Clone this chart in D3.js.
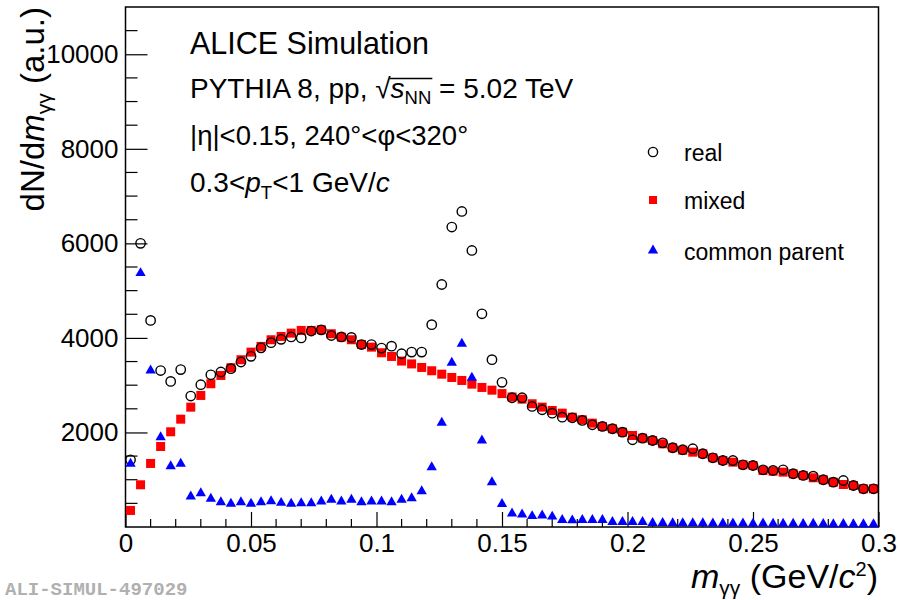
<!DOCTYPE html>
<html><head><meta charset="utf-8">
<script src="https://cdn.jsdelivr.net/npm/d3@7"></script>
<style>
body{margin:0;background:#fff}
svg{display:block}
text{font-family:"Liberation Sans",Arial,Helvetica,sans-serif;fill:#000}
</style>
</head><body>
<svg id="c" width="900" height="600"></svg>
<script>
// ---- data ----
const binWidth = 0.004;       // GeV/c^2 per bin
const nBins = 75;             // 0 .. 0.3
const realValues = [1420,6000,4370,3310,3080,3330,2770,3010,3220,3280,
  3350,3490,3610,3790,3900,3970,4020,4000,4145,4170,
  4050,4020,4010,3860,3860,3785,3825,3665,3700,3700,
  4280,5130,6345,6675,5850,4510,3540,3060,2734,2734,
  2550,2480,2408,2323,2310,2254,2162,2127,2078,2006,
  1845,1879,1830,1781,1676,1634,1655,1549,1464,1407,
  1407,1316,1301,1210,1196,1210,1126,1090,1075,999,
  948,984,878,808,808];
const mixedValues = [350,893,1344,1703,2014,2281,2535,2783,3030,3206,
  3369,3538,3699,3820,3961,4031,4101,4158,4158,4172,
  4088,4017,3961,3862,3805,3686,3608,3510,3450,3375,
  3305,3233,3163,3100,3022,2952,2895,2822,2750,2705,
  2607,2536,2465,2408,2323,2268,2197,2127,2078,2006,
  1936,1879,1830,1760,1676,1625,1583,1549,1464,1407,
  1372,1316,1301,1196,1181,1160,1126,1090,1041,999,
  948,899,878,808,808];
const commonParentValues = [1337,5371,3312,1900,1287,1337,645,715,597,525,
  491,525,491,525,546,511,491,504,504,540,
  575,540,575,525,540,540,525,575,610,755,
  1266,2204,3474,3876,3157,1830,948,485,285,265,
  230,245,220,150,140,150,150,150,105,105,
  105,105,85,85,80,80,80,80,75,75,
  75,75,70,75,70,70,70,65,70,65,
  60,65,60,60,60];
const xTicks = [0,0.05,0.1,0.15,0.2,0.25,0.3];
const xTickLabels = ["0","0.05","0.1","0.15","0.2","0.25","0.3"];
const yTicks = [2000,4000,6000,8000,10000];
const yTickLabels = ["2000","4000","6000","8000","10000"];
const legendLabels = ["real","mixed","common parent"];

// ---- layout ----
const svg = d3.select("#c");
const L = 125.5, R = 878.5, T = 7, B = 527;
const x = d3.scaleLinear().domain([0,0.3]).range([L,R]);
const y = d3.scaleLinear().domain([0,11000]).range([B,T]);
const centers = d3.range(nBins).map(i => (i + 0.5) * binWidth);

svg.append("rect").attr("width",900).attr("height",600).attr("fill","#fff");

// axes
const gx = svg.append("g").attr("transform",`translate(0,${B})`)
  .call(d3.axisBottom(x).tickValues(xTicks).tickFormat((d,i)=>xTickLabels[i])
        .tickSizeInner(-15).tickSizeOuter(0).tickPadding(7));
gx.select(".domain").remove();
gx.selectAll("text").style("font-size","26px").attr("fill","#000");
gx.selectAll("line").attr("stroke","#000").attr("stroke-width",1.2);
const gy = svg.append("g").attr("transform",`translate(${L},0)`)
  .call(d3.axisLeft(y).tickValues(yTicks).tickFormat((d,i)=>yTickLabels[i])
        .tickSizeInner(-22).tickSizeOuter(0).tickPadding(7));
gy.select(".domain").remove();
gy.selectAll("text").style("font-size","26px").attr("fill","#000");
gy.selectAll("line").attr("stroke","#000").attr("stroke-width",1.2);

// minor ticks
const xMinor = d3.range(0,0.3001,0.01).filter(v => Math.abs(v/0.05 - Math.round(v/0.05)) > 1e-6);
svg.append("g").selectAll("line").data(xMinor).join("line")
  .attr("x1",d=>x(d)).attr("x2",d=>x(d)).attr("y1",B).attr("y2",B-8)
  .attr("stroke","#000").attr("stroke-width",1.2);
const yMinor = d3.range(500,11000,500).filter(v => v % 2000 !== 0);
svg.append("g").selectAll("line").data(yMinor).join("line")
  .attr("x1",L).attr("x2",L+12).attr("y1",d=>y(d)).attr("y2",d=>y(d))
  .attr("stroke","#000").attr("stroke-width",1.2);

// frame
svg.append("rect").attr("x",L).attr("y",T).attr("width",R-L).attr("height",B-T)
  .attr("fill","none").attr("stroke","#000").attr("stroke-width",1.5);

// ---- markers ----
const sqSize = 9;
const triPath = d3.symbol().type(d3.symbolTriangle).size(46)();
svg.append("g").selectAll("rect").data(mixedValues).join("rect")
  .attr("x",(d,i)=>x(centers[i])-sqSize/2).attr("y",d=>y(d)-sqSize/2)
  .attr("width",sqSize).attr("height",sqSize).attr("fill","#ff0000");
svg.append("g").selectAll("circle").data(realValues).join("circle")
  .attr("cx",(d,i)=>x(centers[i])).attr("cy",d=>y(d)).attr("r",4.7)
  .attr("fill","none").attr("stroke","#000").attr("stroke-width",1.4);
svg.append("g").selectAll("path").data(commonParentValues).join("path")
  .attr("d",triPath).attr("transform",(d,i)=>`translate(${x(centers[i])},${y(d)})`)
  .attr("fill","#0000ff");

// ---- legend ----
const lg = svg.append("g");
const legY = [152, 200, 250.5];
lg.append("circle").attr("cx",653).attr("cy",legY[0]).attr("r",4.6)
  .attr("fill","none").attr("stroke","#000").attr("stroke-width",1.4);
lg.append("rect").attr("x",653-4).attr("y",legY[1]-4).attr("width",8).attr("height",8).attr("fill","#ff0000");
lg.append("path").attr("d",triPath).attr("transform",`translate(653,${legY[2]})`).attr("fill","#0000ff");
lg.selectAll("text").data(legendLabels).join("text")
  .attr("x",684).attr("y",(d,i)=>legY[i]+9).style("font-size","23px").text(d=>d);

// ---- annotations ----
svg.append("text").attr("x",190).attr("y",54).style("font-size","30.5px").text("ALICE Simulation");

const t2 = svg.append("text").attr("x",190).attr("y",98).style("font-size","28px");
t2.append("tspan").text("PYTHIA 8, pp, ");
t2.append("tspan").text("\u221A");
t2.append("tspan").style("font-style","italic").text("s");
t2.append("tspan").attr("dy",6).style("font-size","18.5px").text("NN");
t2.append("tspan").attr("dy",-6).text(" = 5.02 TeV");
{
  const n = t2.node();
  const xa = n.getEndPositionOfChar(14).x;
  const xb = n.getEndPositionOfChar(17).x;
  svg.append("line").attr("x1",xa-1).attr("x2",xb+1).attr("y1",78.5).attr("y2",78.5)
    .attr("stroke","#000").attr("stroke-width",1.3);
}

svg.append("text").attr("x",190).attr("y",145).style("font-size","27.5px")
  .text("|\u03B7|<0.15, 240\u00B0<\u03C6<320\u00B0");

const t4 = svg.append("text").attr("x",190).attr("y",192).style("font-size","28px");
t4.append("tspan").text("0.3<");
t4.append("tspan").style("font-style","italic").text("p");
t4.append("tspan").attr("dy",7).style("font-size","18.5px").text("T");
t4.append("tspan").attr("dy",-7).text("<1 GeV/");
t4.append("tspan").style("font-style","italic").text("c");

// axis titles
const xt = svg.append("text").attr("x",878).attr("y",588).attr("text-anchor","end").style("font-size","34px");
xt.append("tspan").style("font-style","italic").text("m");
xt.append("tspan").attr("dy",7).style("font-size","21px").text("\u03B3\u03B3");
xt.append("tspan").attr("dy",-7).text(" (GeV/");
xt.append("tspan").style("font-style","italic").text("c");
xt.append("tspan").attr("dy",-12).style("font-size","20px").text("2");
xt.append("tspan").attr("dy",12).text(")");

const yt = svg.append("text").attr("transform","translate(44,7) rotate(-90)")
  .attr("text-anchor","end").style("font-size","33px");
yt.append("tspan").text("dN/d");
yt.append("tspan").style("font-style","italic").text("m");
yt.append("tspan").attr("dy",7).style("font-size","21px").text("\u03B3\u03B3");
yt.append("tspan").attr("dy",-7).text(" (a.u.)");

// watermark
svg.append("text").attr("x",5).attr("y",595)
  .style("font-family","'Liberation Mono','DejaVu Sans Mono',monospace")
  .style("font-weight","bold").style("font-size","19px").style("fill","#b0b0b0")
  .text("ALI-SIMUL-497029");
</script>
</body></html>
